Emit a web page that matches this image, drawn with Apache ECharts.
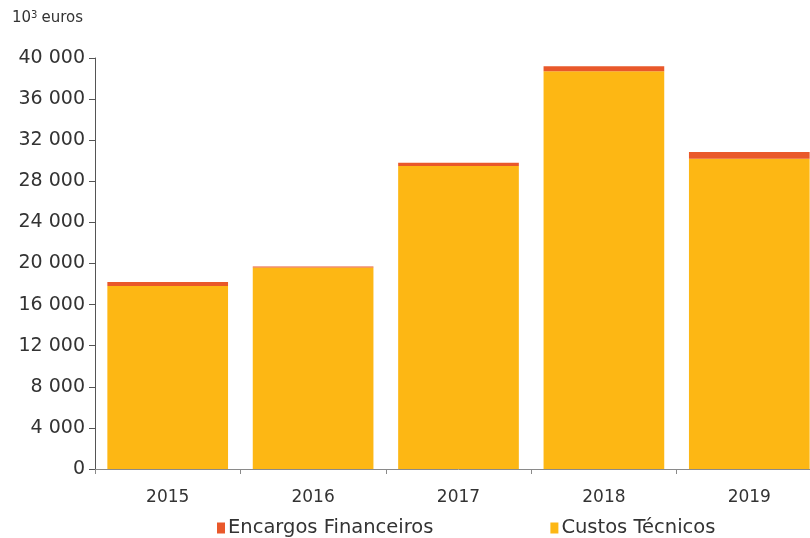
<!DOCTYPE html>
<html>
<head>
<meta charset="utf-8">
<script src="https://cdn.jsdelivr.net/npm/echarts@6/dist/echarts.min.js"></script>
<style>
  html, body { margin: 0; padding: 0; background: #fff; overflow: hidden; }
  /* the plot's last band runs a little past the right edge of the window */
  #chart { width: 822px; height: 538px; }
</style>
</head>
<body>
<div id="chart"></div>
<script>
// Annual costs, thousands of euros
const years = ['2015', '2016', '2017', '2018', '2019'];
const custosTecnicos = [17800, 19600, 29500, 38700, 30200];
const encargosFinanceiros = [400, 100, 300, 500, 650];
const yTicks = { min: 0, max: 40000, interval: 4000 };

const FONT = 'DejaVu Sans';
const YELLOW = '#FDB714';
const ORANGE = '#E9582A';

function thousands(v) {
  return String(v).replace(/\B(?=(\d{3})+(?!\d))/g, ' ');
}

const chart = echarts.init(document.getElementById('chart'), null, { renderer: 'canvas' });
chart.setOption({
  animation: false,
  backgroundColor: '#ffffff',
  textStyle: { fontFamily: FONT },
  graphic: [{
    type: 'text',
    left: 12,
    top: 10,
    style: {
      text: '10{sup|3}euros',
      rich: { sup: { fontSize: 10, verticalAlign: 'top', padding: [0, 4, 6, 0], fontFamily: FONT, fill: '#333' } },
      fontSize: 15,
      fontFamily: FONT,
      fill: '#333'
    }
  }],
  legend: {
    left: 212,
    bottom: -5,
    itemWidth: 8,
    itemHeight: 11,
    itemGap: 117,
    icon: 'rect',
    textStyle: { fontSize: 19.5, color: '#333', fontFamily: FONT, padding: [0, 0, 0, -2] },
    data: ['Encargos Financeiros', 'Custos Técnicos']
  },
  grid: { left: 95, right: 0, top: 58, bottom: 69, containLabel: false },
  xAxis: {
    type: 'category',
    data: years,
    axisLine: { lineStyle: { color: '#8a8a8a', width: 1 } },
    axisTick: { show: true, length: 5, lineStyle: { color: '#8a8a8a' } },
    axisLabel: { fontSize: 17, color: '#333', margin: 20, fontFamily: FONT }
  },
  yAxis: {
    type: 'value',
    min: yTicks.min,
    max: yTicks.max,
    interval: yTicks.interval,
    splitLine: { show: false },
    axisLine: { show: true, lineStyle: { color: '#555', width: 1 } },
    axisTick: { show: true, length: 6, lineStyle: { color: '#555' } },
    axisLabel: { fontSize: 19, color: '#333', margin: 10, fontFamily: FONT, formatter: thousands }
  },
  series: [
    {
      name: 'Custos Técnicos',
      type: 'bar',
      stack: 'total',
      barCategoryGap: '17%',
      itemStyle: { color: YELLOW },
      data: custosTecnicos
    },
    {
      name: 'Encargos Financeiros',
      type: 'bar',
      stack: 'total',
      itemStyle: { color: ORANGE },
      data: encargosFinanceiros
    }
  ]
});
</script>
</body>
</html>
